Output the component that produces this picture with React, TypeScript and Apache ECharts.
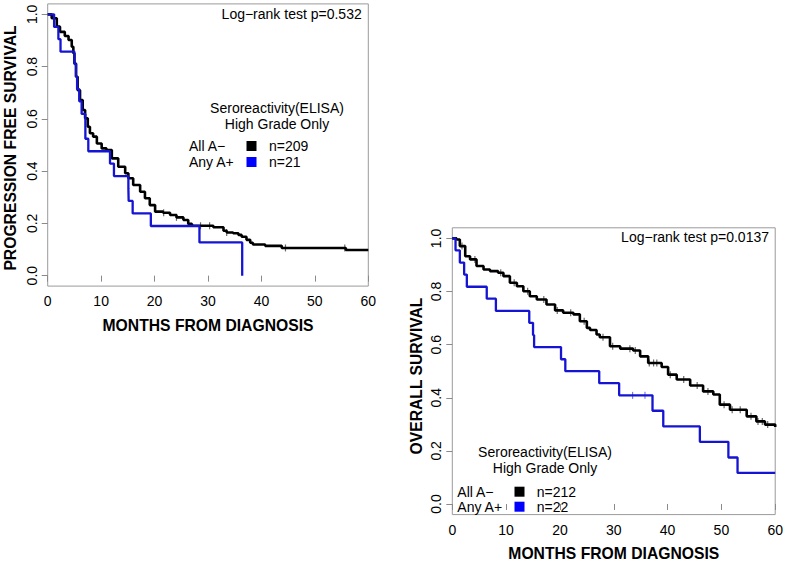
import React, { useEffect, useRef } from "react";
import * as echarts from "echarts";

// ---- Progression free survival (left panel) ----
const pfsAllTime = [0, 0.75, 1.7, 2.3, 3.2, 3.9, 4.5, 4.8, 5.0, 5.3, 5.6, 6.05, 6.55, 7.0, 7.5, 7.9, 8.5, 9.2, 10.1, 11.0, 12.0, 13.2, 14.5, 15.1, 16.0, 17.3, 18.2, 19.1, 20.1, 21.6, 22.9, 24.1, 25.4, 26.3, 27.0, 31.0, 32.9, 33.5, 34.7, 35.7, 36.3, 37.2, 37.9, 38.4, 40.7, 43.8, 55.8, 60];
const pfsAllSurv = [1, 0.985, 0.953, 0.933, 0.917, 0.902, 0.876, 0.851, 0.812, 0.761, 0.71, 0.672, 0.634, 0.602, 0.57, 0.545, 0.532, 0.506, 0.487, 0.481, 0.449, 0.417, 0.392, 0.373, 0.347, 0.321, 0.296, 0.27, 0.245, 0.241, 0.232, 0.223, 0.213, 0.198, 0.191, 0.185, 0.172, 0.165, 0.162, 0.156, 0.149, 0.137, 0.126, 0.119, 0.114, 0.106, 0.098, 0.098];
const pfsAllCensor = [21.7, 24.1, 28.6, 30.3, 33.5, 44.5, 55.6];

const pfsAnyTime = [0, 1.2, 2.0, 2.4, 5.0, 5.3, 5.5, 5.9, 6.35, 7.05, 7.6, 11.66, 12.4, 15.1, 15.15, 15.9, 19.3, 28.4, 36.4];
const pfsAnySurv = [1, 0.952, 0.905, 0.857, 0.81, 0.762, 0.714, 0.667, 0.619, 0.524, 0.476, 0.429, 0.381, 0.333, 0.286, 0.238, 0.19, 0.127, 0];

// ---- Overall survival (right panel) ----
const osAllTime = [0, 0.8, 1.4, 2.4, 3.3, 4.5, 5.8, 7.0, 8.5, 9.5, 10.7, 12.0, 13.2, 14.4, 15.7, 17.5, 19.1, 20.6, 22.5, 23.7, 25.0, 25.6, 26.8, 27.4, 29.3, 31.2, 33.6, 34.9, 36.4, 38.9, 40.1, 41.7, 44.2, 46.6, 48.5, 49.7, 51.6, 54.7, 56.5, 58.1, 60];
const osAllSurv = [1, 0.996, 0.971, 0.933, 0.921, 0.896, 0.883, 0.877, 0.871, 0.858, 0.833, 0.82, 0.801, 0.782, 0.77, 0.751, 0.729, 0.72, 0.714, 0.688, 0.663, 0.655, 0.638, 0.628, 0.594, 0.585, 0.578, 0.556, 0.531, 0.516, 0.487, 0.469, 0.446, 0.424, 0.412, 0.374, 0.355, 0.33, 0.311, 0.299, 0.29];
const osAllCensor = [1.8, 4.2, 9.0, 11.5, 14.0, 17.0, 19.5, 22.0, 24.5, 28.0, 29.8, 33.0, 34.0, 36.6, 37.4, 38.0, 40.5, 43.0, 45.5, 47.5, 50.5, 52.0, 53.5, 55.5, 56.8, 57.6, 58.6];

const osAnyTime = [0, 0.6, 1.4, 2.2, 2.7, 6.4, 8.1, 14.3, 15.0, 15.2, 20.2, 21.0, 27.3, 31.0, 37.2, 39.2, 46.0, 51.3, 53.0, 60];
const osAnySurv = [1, 0.955, 0.909, 0.864, 0.818, 0.773, 0.727, 0.682, 0.636, 0.591, 0.545, 0.5, 0.455, 0.409, 0.351, 0.292, 0.234, 0.175, 0.117, 0.117];
const osAnyCensor = [33.5, 35.8];

const xTicks = [0, 10, 20, 30, 40, 50, 60];
const yTicks = [0, 0.2, 0.4, 0.6, 0.8, 1.0];

const BLACK = "#000000";
const BLUE = "#1414d2";
const FONT = '"Liberation Sans", Arial, sans-serif';

function pairs(t: number[], s: number[]) {
  return t.map((v, i) => [v, s[i]]);
}
function survAt(t: number[], s: number[], x: number) {
  let v = s[0];
  for (let i = 0; i < t.length; i++) {
    if (t[i] <= x) v = s[i];
  }
  return v;
}
function censorPts(times: number[], t: number[], s: number[]) {
  return times.map((c) => [c, survAt(t, s, c)]);
}

export default function App() {
  const ref = useRef<HTMLDivElement>(null);
  useEffect(() => {
    if (!ref.current) return;
    const chart = echarts.init(ref.current, null, { renderer: "svg" });

    const grids = [
      { left: 47.7, top: 3.9, width: 320.6, height: 282.2 },
      { left: 452.3, top: 227.8, width: 323, height: 286.8 },
    ];

    const mkX = (gi: number) => ({
      type: "value",
      gridIndex: gi,
      min: 0,
      max: 60,
      interval: 10,
      axisLine: { show: false },
      axisTick: { show: true, length: 6, lineStyle: { color: "#8a8a8a" } },
      axisLabel: { margin: 8, fontSize: 14, color: "#000", fontFamily: FONT },
      splitLine: { show: false },
    });
    const mkY = (gi: number) => ({
      type: "value",
      gridIndex: gi,
      min: -0.04,
      max: 1.04,
      axisLine: { show: false },
      axisTick: { show: true, length: 6, customValues: yTicks, lineStyle: { color: "#8a8a8a" } },
      axisLabel: {
        customValues: yTicks,
        rotate: 90,
        margin: 9,
        fontSize: 14,
        color: "#000",
        fontFamily: FONT,
        formatter: (v: number) => v.toFixed(1),
      },
      splitLine: { show: false },
    });

    const lineS = (gi: number, data: number[][], color: string, w: number) => ({
      type: "line",
      xAxisIndex: gi,
      yAxisIndex: gi,
      data,
      step: "end",
      showSymbol: false,
      symbol: "none",
      lineStyle: { color, width: w },
      silent: true,
    });
    const censS = (gi: number, data: number[][], color: string) => ({
      type: "scatter",
      xAxisIndex: gi,
      yAxisIndex: gi,
      data,
      symbol: "rect",
      symbolSize: [1.2, 7],
      itemStyle: { color },
      silent: true,
    });

    const txt = (x: number, y: number, text: string, align: string, extra: any = {}) => ({
      type: "text",
      x,
      y,
      silent: true,
      ...extra,
      style: {
        text,
        fill: "#000",
        font: `14px ${FONT}`,
        align,
        verticalAlign: "middle",
        ...(extra.style || {}),
      },
    });
    const bold = (x: number, y: number, text: string, rot: number) => ({
      type: "text",
      x,
      y,
      rotation: rot,
      silent: true,
      style: {
        text,
        fill: "#000",
        font: `bold 15.7px ${FONT}`,
        align: "center",
        verticalAlign: "middle",
      },
    });
    const sq = (cx: number, cy: number, color: string) => ({
      type: "rect",
      shape: { x: cx - 5, y: cy - 5, width: 10, height: 10 },
      style: { fill: color },
      silent: true,
    });

    chart.setOption({
      animation: false,
      backgroundColor: "#ffffff",
      grid: grids.map((g) => ({ ...g, show: true, borderColor: "#9a9a9a", borderWidth: 1, backgroundColor: "transparent" })),
      xAxis: [mkX(0), mkX(1)],
      yAxis: [mkY(0), mkY(1)],
      series: [
        lineS(0, pairs(pfsAllTime, pfsAllSurv), BLACK, 2.6),
        censS(0, censorPts(pfsAllCensor, pfsAllTime, pfsAllSurv), "#444"),
        lineS(0, pairs(pfsAnyTime, pfsAnySurv), BLUE, 2.3),
        lineS(1, pairs(osAllTime, osAllSurv), BLACK, 2.6),
        censS(1, censorPts(osAllCensor, osAllTime, osAllSurv), "#444"),
        lineS(1, pairs(osAnyTime, osAnySurv), BLUE, 2.3),
        censS(1, censorPts(osAnyCensor, osAnyTime, osAnySurv), "#5a5ae0"),
      ],
      graphic: [
        // left panel
        txt(361.7, 13.5, "Log\u2212rank test p=0.532", "right"),
        txt(277, 108, "Seroreactivity(ELISA)", "center"),
        txt(277, 124, "High Grade Only", "center"),
        txt(189, 146, "All A\u2212", "left"),
        txt(189, 162, "Any A+", "left"),
        sq(251.5, 146, BLACK),
        sq(251.5, 162, "#0000ff"),
        txt(269, 146, "n=209", "left"),
        txt(269, 162, "n=21", "left"),
        bold(208, 325, "MONTHS FROM DIAGNOSIS", 0),
        bold(10, 148, "PROGRESSION FREE SURVIVAL", Math.PI / 2),
        // right panel
        txt(769, 236.7, "Log\u2212rank test p=0.0137", "right"),
        txt(545, 451.7, "Seroreactivity(ELISA)", "center"),
        txt(545, 468, "High Grade Only", "center"),
        txt(457.3, 491.7, "All A\u2212", "left"),
        txt(457.3, 506.7, "Any A+", "left"),
        sq(519.5, 491.7, BLACK),
        sq(519.5, 506.7, "#0000ff"),
        txt(536.7, 491.7, "n=212", "left"),
        txt(536.7, 506.7, "n=22", "left"),
        bold(613.8, 553.3, "MONTHS FROM DIAGNOSIS", 0),
        bold(416, 376, "OVERALL SURVIVAL", Math.PI / 2),
      ],
    });
    return () => chart.dispose();
  }, []);

  return (
    <div
      ref={ref}
      style={{ position: "absolute", left: 0, top: 0, width: 786, height: 564, background: "#fff" }}
    />
  );
}
